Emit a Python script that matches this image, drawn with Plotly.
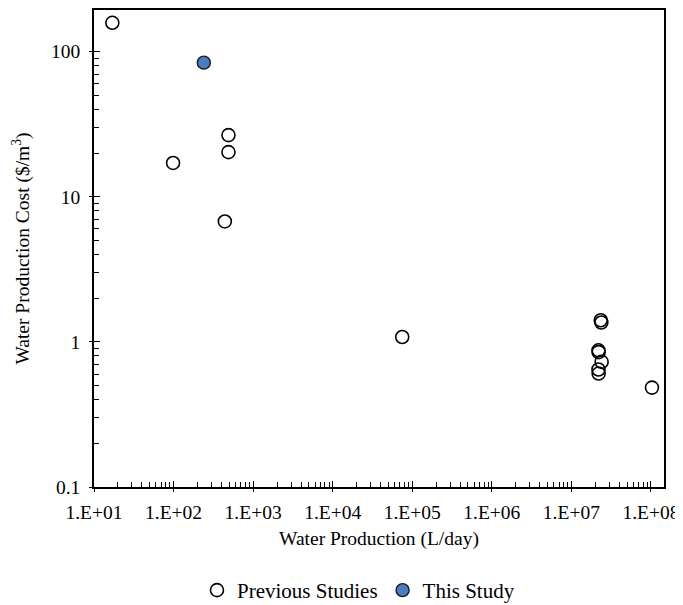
import plotly.graph_objects as go

# Data
prev_production = [17, 98.6, 490, 490, 441, 74800, 2.34e7, 2.38e7, 2.19e7, 2.2e7, 2.4e7, 2.19e7, 2.2e7, 1.03e8]
prev_cost = [158, 17.1, 26.6, 20.3, 6.76, 1.08, 1.41, 1.36, 0.875, 0.85, 0.728, 0.645, 0.605, 0.484]
this_production = [240]
this_cost = [84]

x_tickvals = [1e1, 1e2, 1e3, 1e4, 1e5, 1e6, 1e7, 1e8]
x_ticktext = ["1.E+01", "1.E+02", "1.E+03", "1.E+04", "1.E+05", "1.E+06", "1.E+07", "1.E+08"]
y_tickvals = [0.1, 1, 10, 100]
y_ticktext = ["0.1", "1", "10", "100"]

FONT = "Liberation Serif, Times New Roman, serif"
FS_TICK = 19.5
FS_TITLE = 19.5
FS_LEG = 21

x_minor = [m * 10 ** e for e in range(1, 9) for m in range(2, 10)]
y_minor = [m * 10 ** e for e in range(-1, 3) for m in range(2, 10)]

fig = go.Figure()
fig.add_trace(go.Scatter(
    x=prev_production, y=prev_cost, mode="markers", name="Previous Studies",
    marker=dict(symbol="circle", size=13, color="rgba(255,255,255,0)",
                line=dict(color="black", width=1.6)),
))
fig.add_trace(go.Scatter(
    x=this_production, y=this_cost, mode="markers", name="This Study",
    marker=dict(symbol="circle", size=13, color="#4A7CC2",
                line=dict(color="#1a1a1a", width=1.4)),
))
# invisible trace to anchor overlay axes (inside major ticks)
fig.add_trace(go.Scatter(x=[1e3], y=[1], xaxis="x2", yaxis="y2", mode="markers",
                         marker=dict(opacity=0), showlegend=False, hoverinfo="skip"))

xr = [1, 8.164]
yr = [-1, 2.287]

# page body has an 8px margin, so the figure is sized/shifted to compensate
fig.update_layout(
    width=675, height=597,
    margin=dict(l=86, r=19, t=2, b=118, autoexpand=False),
    paper_bgcolor="white", plot_bgcolor="white",
    font=dict(family=FONT, size=FS_TICK, color="black"),
    showlegend=True,
    legend=dict(orientation="h", x=0.464, xanchor="center", y=-0.174, yanchor="top",
                font=dict(family=FONT, size=FS_LEG), itemwidth=30, tracegroupgap=0,
                bgcolor="rgba(0,0,0,0)"),
    xaxis=dict(type="log", range=xr, tickvals=x_tickvals, ticktext=x_ticktext,
               ticks="outside", ticklen=3, tickwidth=1.3, tickcolor="black",
               showline=True, linecolor="black", linewidth=1.5, mirror=True,
               showgrid=False, zeroline=False, ticklabelstandoff=4,
               tickfont=dict(family=FONT, size=FS_TICK),
               minor=dict(tickvals=x_minor, ticks="inside", ticklen=5, tickwidth=1.2,
                          tickcolor="black", showgrid=False),
               title=dict(text="Water Production (L/day)", standoff=9,
                          font=dict(family=FONT, size=FS_TITLE))),
    yaxis=dict(type="log", range=yr, tickvals=y_tickvals, ticktext=y_ticktext,
               ticks="outside", ticklen=3, tickwidth=1.3, tickcolor="black",
               showline=True, linecolor="black", linewidth=1.5, mirror=True,
               showgrid=False, zeroline=False, ticklabelstandoff=5,
               tickfont=dict(family=FONT, size=FS_TICK),
               minor=dict(tickvals=y_minor, ticks="inside", ticklen=5, tickwidth=1.2,
                          tickcolor="black", showgrid=False),
               title=dict(text="Water Production Cost ($/m<sup>3</sup>)", standoff=16,
                          font=dict(family=FONT, size=FS_TITLE))),
    xaxis2=dict(type="log", range=xr, overlaying="x", side="bottom", anchor="y2",
                tickvals=x_tickvals, showticklabels=False, ticks="inside", ticklen=6,
                tickwidth=1.3, tickcolor="black", showline=False, showgrid=False,
                zeroline=False),
    yaxis2=dict(type="log", range=yr, overlaying="y", side="left", anchor="x2",
                tickvals=y_tickvals, showticklabels=False, ticks="inside", ticklen=6,
                tickwidth=1.3, tickcolor="black", showline=False, showgrid=False,
                zeroline=False),
)

fig.write_html("out.html")
